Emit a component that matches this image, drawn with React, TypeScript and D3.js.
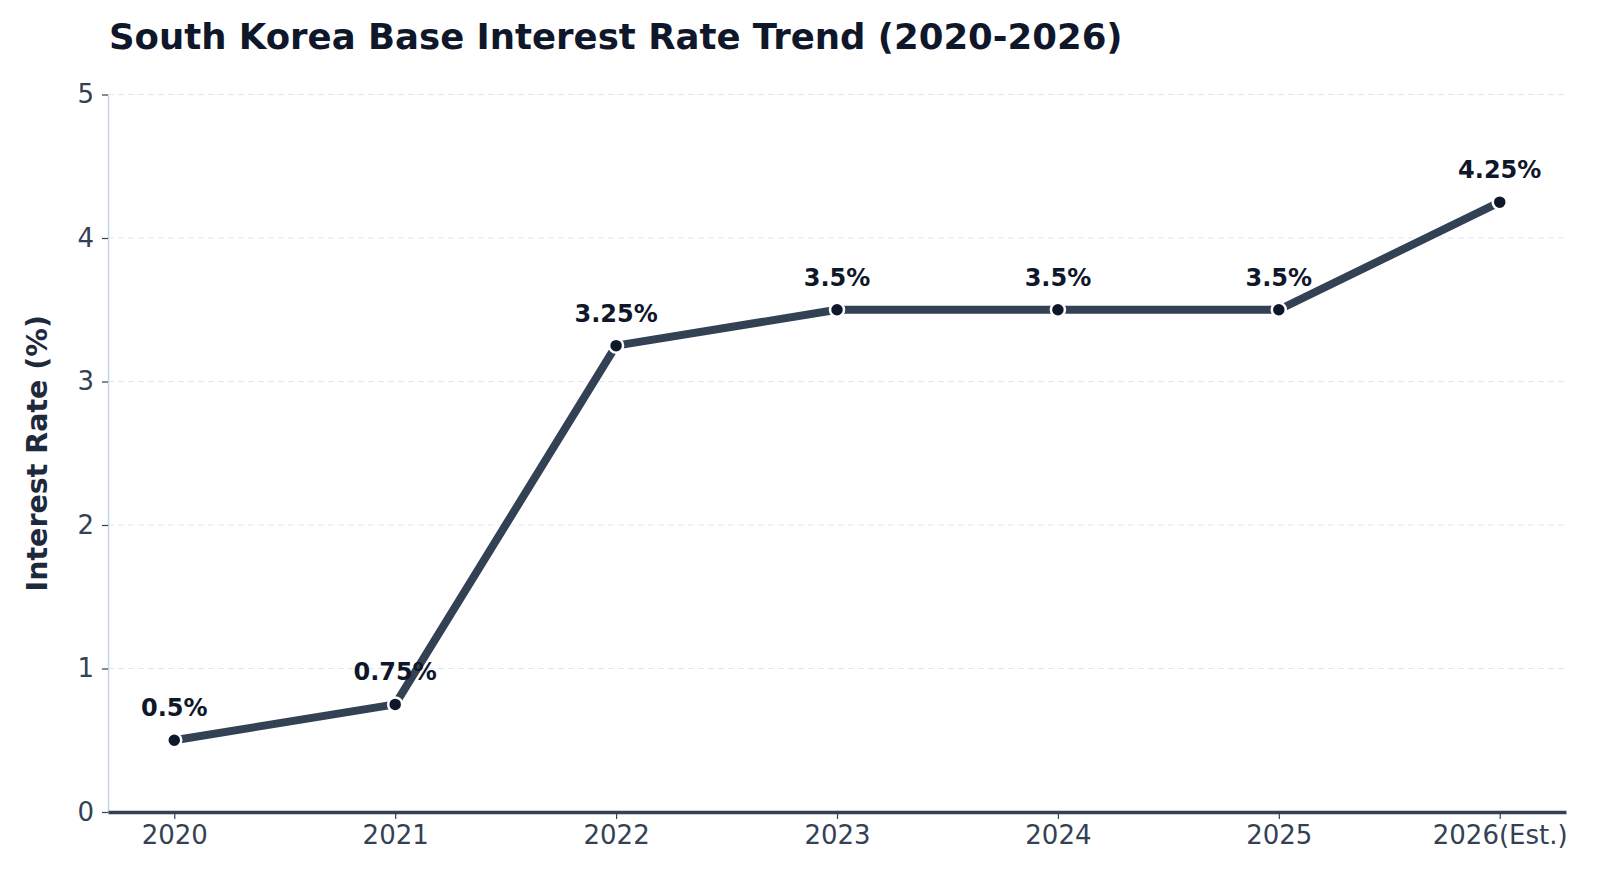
import { useEffect, useRef } from "react";
import * as d3 from "d3";

const years = ["2020", "2021", "2022", "2023", "2024", "2025", "2026(Est.)"];
const rates = [0.5, 0.75, 3.25, 3.5, 3.5, 3.5, 4.25];
const yTicks = [0, 1, 2, 3, 4, 5];

const W = 1600;
const H = 880;
const FONT = "DejaVu Sans, sans-serif";

export default function App() {
  const ref = useRef<SVGSVGElement | null>(null);

  useEffect(() => {
    const svg = d3.select(ref.current);
    svg.selectAll("*").remove();

    const left = 108;
    const right = 1566;
    const top = 94.5;
    const bottom = 812;

    const x = d3.scaleLinear().domain([-0.3, years.length - 1 + 0.3]).range([left, right]);
    const y = d3.scaleLinear().domain([0, 5]).range([bottom, top]);

    svg.append("rect").attr("width", W).attr("height", H).attr("fill", "#ffffff");

    // grid
    svg
      .append("g")
      .selectAll("line")
      .data(yTicks.slice(1))
      .enter()
      .append("line")
      .attr("x1", left)
      .attr("x2", right)
      .attr("y1", (d) => y(d))
      .attr("y2", (d) => y(d))
      .attr("stroke", "#e2e8f0")
      .attr("stroke-width", 1.2)
      .attr("stroke-dasharray", "6,4");

    // y axis
    const yAxis = svg
      .append("g")
      .attr("transform", `translate(${left},0)`)
      .call(
        d3
          .axisLeft(y)
          .tickValues(yTicks)
          .tickSize(6)
          .tickSizeOuter(0)
          .tickPadding(8)
          .tickFormat(d3.format("d"))
      );
    yAxis.select(".domain").attr("stroke", "#cbd5e1").attr("stroke-width", 1.5);
    yAxis.selectAll(".tick line").attr("stroke", "#334155").attr("stroke-width", 1.2);
    yAxis
      .selectAll(".tick text")
      .attr("fill", "#334155")
      .attr("font-family", FONT)
      .attr("font-size", 26);

    // x axis
    const xAxis = svg
      .append("g")
      .attr("transform", `translate(0,${bottom})`)
      .call(
        d3
          .axisBottom(x)
          .tickValues(d3.range(years.length))
          .tickSize(7)
          .tickSizeOuter(0)
          .tickPadding(7)
          .tickFormat((d) => years[d as number])
      );
    xAxis.select(".domain").attr("stroke", "#334155").attr("stroke-width", 3.5);
    xAxis.selectAll(".tick line").attr("stroke", "#334155").attr("stroke-width", 1.2);
    xAxis
      .selectAll(".tick text")
      .attr("fill", "#334155")
      .attr("font-family", FONT)
      .attr("font-size", 26);

    // line
    const line = d3
      .line<number>()
      .x((_, i) => x(i))
      .y((d) => y(d));

    svg
      .append("path")
      .datum(rates)
      .attr("d", line)
      .attr("fill", "none")
      .attr("stroke", "#334155")
      .attr("stroke-width", 8)
      .attr("stroke-linejoin", "round");

    svg
      .append("g")
      .selectAll("circle")
      .data(rates)
      .enter()
      .append("circle")
      .attr("cx", (_, i) => x(i))
      .attr("cy", (d) => y(d))
      .attr("r", 7)
      .attr("fill", "#0f172a")
      .attr("stroke", "#ffffff")
      .attr("stroke-width", 2.5);

    svg
      .append("g")
      .selectAll("text")
      .data(rates)
      .enter()
      .append("text")
      .attr("x", (_, i) => x(i))
      .attr("y", (d) => y(d) - 24)
      .attr("text-anchor", "middle")
      .attr("font-family", FONT)
      .attr("font-weight", "bold")
      .attr("font-size", 24)
      .attr("fill", "#0f172a")
      .text((d) => `${d}%`);

    // title
    svg
      .append("text")
      .attr("x", 109)
      .attr("y", 49)
      .attr("font-family", FONT)
      .attr("font-weight", "bold")
      .attr("font-size", 35.5)
      .attr("fill", "#0f172a")
      .text("South Korea Base Interest Rate Trend (2020-2026)");

    // y label
    svg
      .append("text")
      .attr("transform", `translate(47,${(top + bottom) / 2}) rotate(-90)`)
      .attr("text-anchor", "middle")
      .attr("font-family", FONT)
      .attr("font-weight", "bold")
      .attr("font-size", 28.5)
      .attr("fill", "#1e293b")
      .text("Interest Rate (%)");
  }, []);

  return (
    <svg
      ref={ref}
      width={W}
      height={H}
      style={{ position: "absolute", left: 0, top: 0, display: "block" }}
    ></svg>
  );
}
